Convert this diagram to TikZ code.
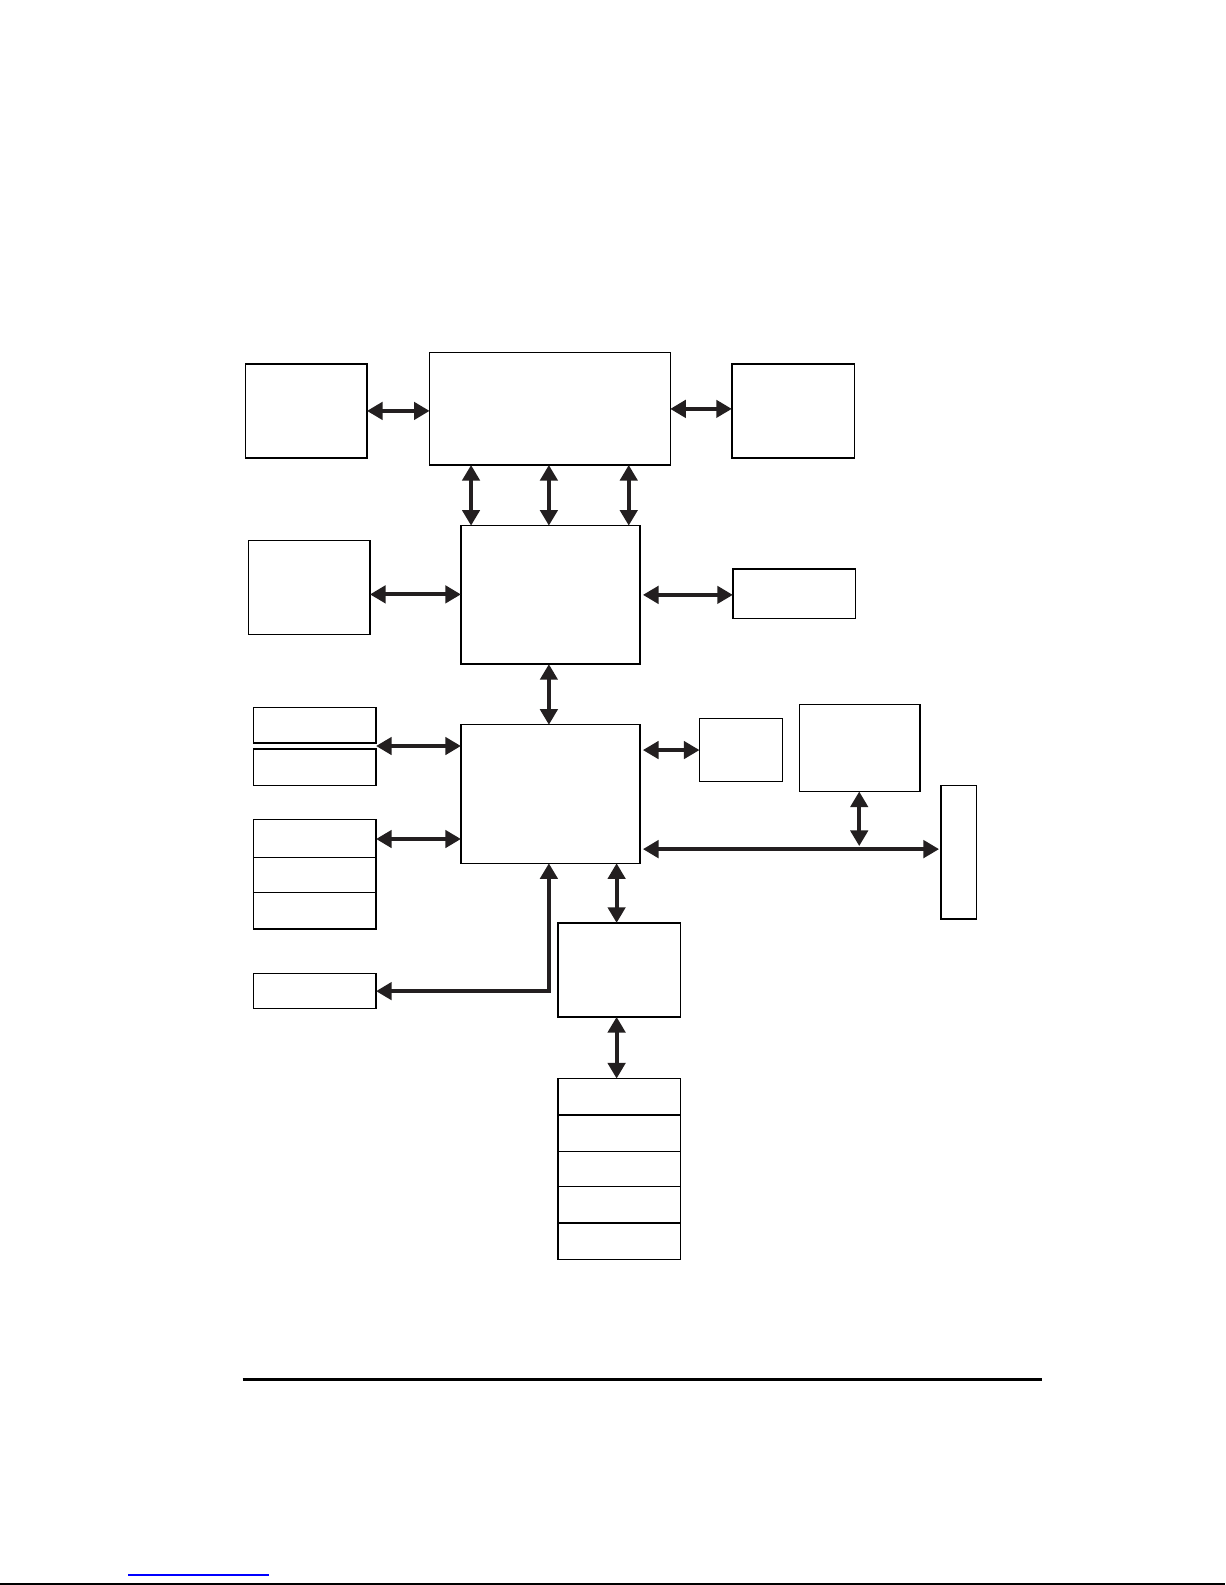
\documentclass[tikz,border=0pt]{standalone}
\usetikzlibrary{arrows.meta,fit,calc}
\definecolor{arrowc}{RGB}{35,31,32}
\begin{document}
\begin{tikzpicture}[x=0.50535pt,y=-0.50535pt,
  box/.style={draw=black,line width=0.65pt,inner sep=0pt,outer sep=0pt,rectangle},
  dbl/.style={draw=arrowc,line width=1.9pt,{Triangle[length=7.8pt,width=8.6pt]}-{Triangle[length=7.8pt,width=8.6pt]}}]
\useasboundingbox (0,0) rectangle (1212,1568);
\fill[white] (0,0) rectangle (1212,1568);
% top row
\node[box,fit={(243,360)(363,453)}] (L1) {};
\node[box,fit={(425,349)(663,460)}] (top) {};
\node[box,fit={(724,360)(845,453)}] (R1) {};
% second row
\node[box,fit={(246,535)(366,628)}] (L2) {};
\node[box,fit={(456,520)(633,657)}] (mid) {};
\node[box,fit={(725,563)(846,612)}] (R2) {};
% third block
\node[box,fit={(456,717)(633,854)}] (south) {};
\node[box,fit={(251,700)(372,735)}] (La) {};
\node[box,fit={(251,741)(372,777)}] (Lb) {};
\node[box,fit={(251,811)(372,848)}] (Lc) {};
\node[box,fit={(251,848)(372,883)}] (Ld) {};
\node[box,fit={(251,883)(372,919)}] (Le) {};
\node[box,fit={(251,963)(372,998)}] (BL) {};
\node[box,fit={(692,711)(774,773)}] (rs) {};
\node[box,fit={(791,697)(910,783)}] (rb) {};
\node[box,fit={(931,777)(966,909)}] (bar) {};
\node[box,fit={(552,913)(673,1006)}] (sb) {};
\node[box,fit={(552,1067)(673,1103)}] (s1) {};
\node[box,fit={(552,1103)(673,1139)}] (s2) {};
\node[box,fit={(552,1139)(673,1174)}] (s3) {};
\node[box,fit={(552,1174)(673,1210)}] (s4) {};
\node[box,fit={(552,1210)(673,1246)}] (s5) {};
% helper coordinates
\coordinate (x1) at (466,0);
\coordinate (x2) at (543,0);
\coordinate (x3) at (622,0);
\coordinate (x610) at (610,0);
\coordinate (y2) at (366,588);
\coordinate (yab) at (372,738);
\coordinate (ycd) at (372,830);
\coordinate (busR) at (929,840);
\coordinate (busT) at (850,837);
% connectors
\draw[dbl] (L1.east) -- (L1.east -| top.west);
\draw[dbl] (top.east) -- (top.east -| R1.west);
\draw[dbl] (top.south -| x1) -- (mid.north -| x1);
\draw[dbl] (top.south -| x2) -- (mid.north -| x2);
\draw[dbl] (top.south -| x3) -- (mid.north -| x3);
\draw[dbl] (y2 -| L2.east) -- (y2 -| mid.west);
\draw[dbl] ($(mid.east)+(3,0)$) -- (mid.east -| R2.west);
\draw[dbl] (mid.south -| x2) -- (south.north -| x2);
\draw[dbl] (yab) -- (yab -| south.west);
\draw[dbl] (ycd) -- (ycd -| south.west);
\draw[dbl] ($(south.east |- rs.west)+(3,0)$) -- (rs.west);
\draw[dbl] ($(busR -| south.east)+(3,0)$) -- (busR);
\draw[dbl] (rb.south -| busT) -- (busT);
\draw[dbl] (south.south -| x610) -- (sb.north -| x610);
\draw[dbl] (sb.south -| x610) -- (s1.north -| x610);
\draw[dbl] (south.south -| x2) |- (BL.east);
% page rules
\draw[line width=1.4pt] (240,1365) -- (1031,1365);
\draw[blue,line width=0.6pt] (127,1558) -- (266,1558);
\draw[line width=0.8pt] (0,1567) -- (1212,1567);
\end{tikzpicture}
\end{document}
